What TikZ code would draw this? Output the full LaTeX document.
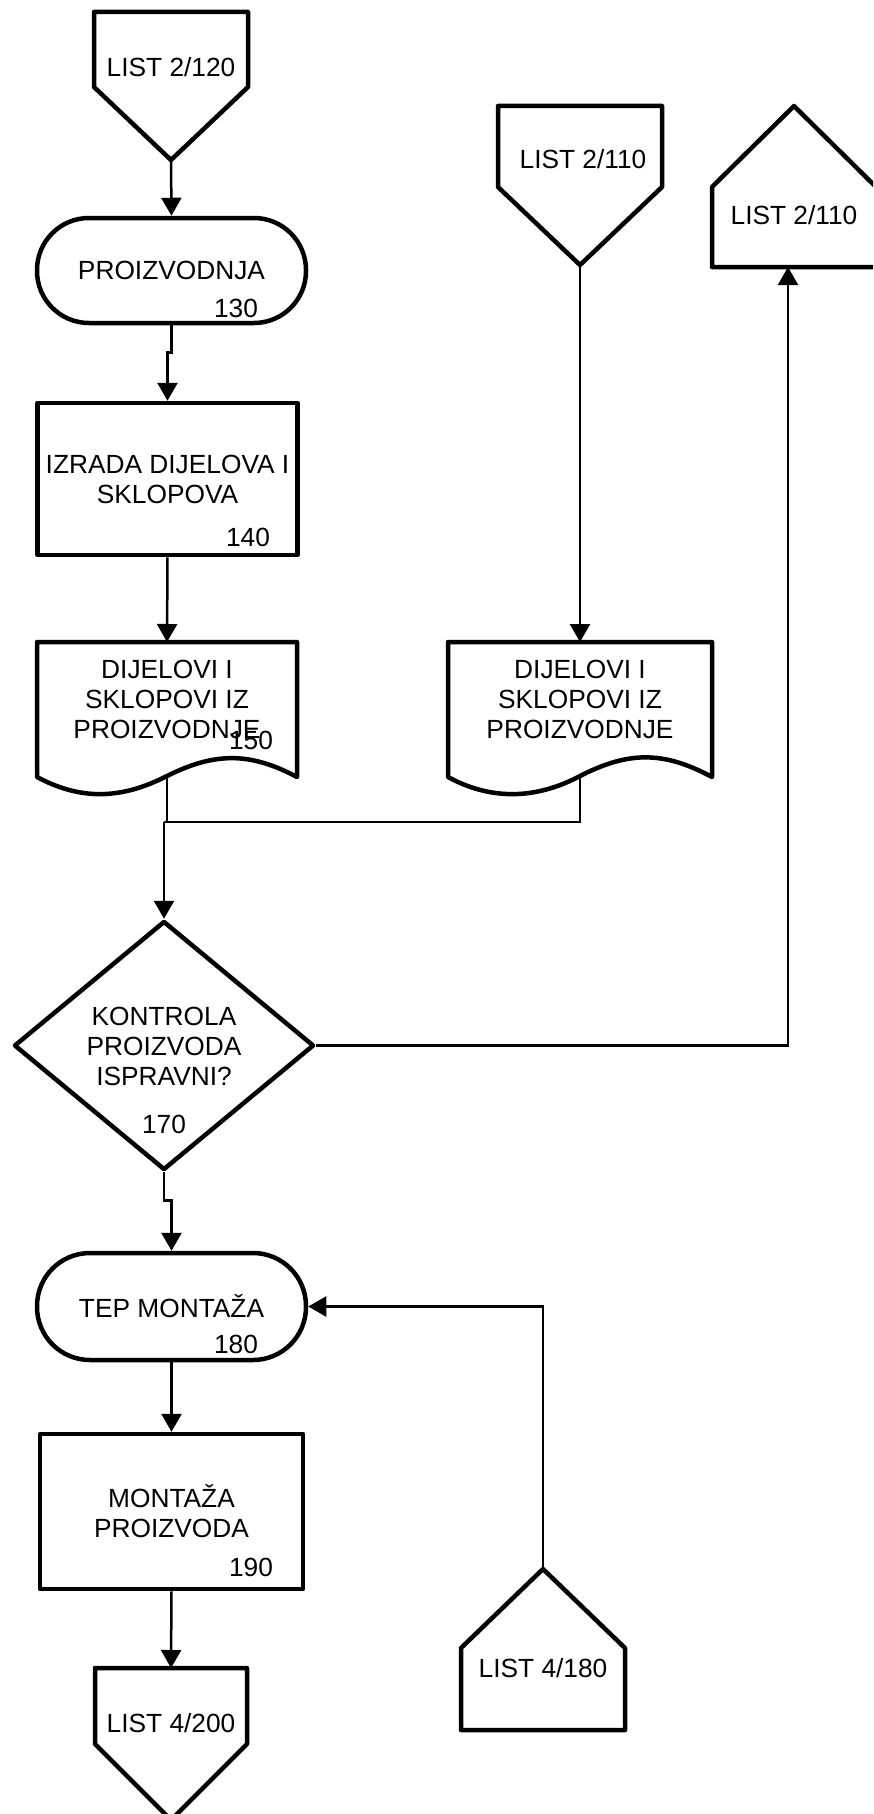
\documentclass[tikz,border=0pt]{standalone}
\usepackage{fontspec}
\setmainfont{Liberation Sans}
\usetikzlibrary{arrows.meta,shapes.geometric,calc}
\begin{document}
\begin{tikzpicture}[x=1pt,y=-1pt,
  border/.style={line width=4.5pt, line join=round},
  conn/.style={line width=2.5pt},
  arr/.style={conn, -{Triangle[length=18pt,width=20pt]}},
  lbl/.style={font=\fontsize{26.3}{30}\selectfont, inner sep=0pt, align=center},
  procbox/.style={draw, border, rectangle, lbl},
  termbox/.style={draw, border, rectangle, lbl},
  decbox/.style={draw, border, diamond, inner sep=0pt},
]
\useasboundingbox (0,0) rectangle (873,1814);
\clip (0,0) rectangle (873,1814);

% ---- off-page connector LIST 2/120 (down)
\draw[border] (94,12) -- (248,12) -- (248,87) -- (171,160) -- (94,87) -- cycle;
\node[lbl] (l120) at (171,67) {LIST 2/120};
\coordinate (l120tip) at (171,160);

% ---- terminator PROIZVODNJA
\node[termbox, rounded corners=52pt, minimum width=269pt, minimum height=105pt] (t130) at (171.5,270.5) {PROIZVODNJA};
\node[lbl] (n130) at (236,308) {130};

% ---- process 140
\node[procbox, minimum width=260pt, minimum height=152pt] (p140) at (167.5,479) {IZRADA DIJELOVA I\\SKLOPOVA};
\node[lbl] (n140) at (248,537) {140};

% ---- document 150
\draw[border] (37,642) -- (297,642) -- (297,777)
  .. controls (250,752) and (215,752) .. (167,776)
  .. controls (120,800) and (80,800) .. (37,777) -- cycle;
\node[lbl] (d150) at (167,699) {DIJELOVI I\\SKLOPOVI IZ\\PROIZVODNJE};
\node[lbl] (n150) at (251,740) {150};
\coordinate (d150top) at (167,642);
\coordinate (d150bot) at (167,776);

% ---- off-page connector LIST 2/110 (down)
\draw[border] (498,106) -- (662,106) -- (662,187) -- (580,265) -- (498,187) -- cycle;
\node[lbl] (l110) at (583,159) {LIST 2/110};
\coordinate (l110tip) at (580,265);

% ---- document 2
\draw[border] (448,642) -- (712,642) -- (712,777)
  .. controls (662,750) and (627,752) .. (580,776)
  .. controls (535,800) and (490,800) .. (448,777) -- cycle;
\node[lbl] (d2) at (580,699) {DIJELOVI I\\SKLOPOVI IZ\\PROIZVODNJE};
\coordinate (d2top) at (580,642);
\coordinate (d2bot) at (580,776);

% ---- off-page connector LIST 2/110 (up)
\draw[border] (712,267) -- (712,187) -- (794,106) -- (876,187) -- (876,267) -- cycle;
\node[lbl] (u110) at (794,215) {LIST 2/110};
\coordinate (u110bot) at (788,267);

% ---- decision 170
\node[decbox, minimum width=300pt, minimum height=249pt] (d170) at (164,1045.5) {};
\node[lbl] (d170t) at (164,1046) {KONTROLA\\PROIZVODA\\ISPRAVNI?};
\node[lbl] (n170) at (164,1124) {170};

% ---- terminator TEP MONTAZA
\node[termbox, rounded corners=53pt, minimum width=269pt, minimum height=107pt] (t180) at (171.5,1306.5) {TEP MONTAŽA};
\node[lbl] (n180) at (236,1344) {180};

% ---- process 190
\node[procbox, minimum width=263pt, minimum height=155pt] (p190) at (171.5,1511.5) {MONTAŽA\\PROIZVODA};
\node[lbl] (n190) at (251,1567) {190};

% ---- off-page connector LIST 4/200 (down)
\draw[border] (95,1668) -- (247,1668) -- (247,1744) -- (171,1820) -- (95,1744) -- cycle;
\node[lbl] (l200) at (171,1723) {LIST 4/200};
\coordinate (l200top) at (171,1668);

% ---- off-page connector LIST 4/180 (up)
\draw[border] (461,1730) -- (461,1648) -- (543,1569) -- (625,1648) -- (625,1730) -- cycle;
\node[lbl] (u180) at (543,1668) {LIST 4/180};
\coordinate (u180apex) at (543,1569);

% ---- connectors
\coordinate (j) at (164,822);
\draw[arr] (l120tip) -- (t130.north);
\draw[arr] (t130.south) -- ++(0,27) -| (p140.north);
\draw[arr] (p140.south) -- (d150top);
\draw[conn] (d150bot) |- (j);
\draw[conn] (d2bot) |- (j);
\draw[arr] (j) -- (d170.north);
\draw[arr] (l110tip) -- (d2top);
\draw[arr] (d170.east) -| (u110bot);
\draw[arr] (d170.south) -- ++(0,28) -| (t180.north);
\draw[arr] (u180apex) |- (t180.east);
\draw[arr] (t180.south) -- (p190.north);
\draw[arr] (p190.south) -- (l200top);
\end{tikzpicture}
\end{document}
